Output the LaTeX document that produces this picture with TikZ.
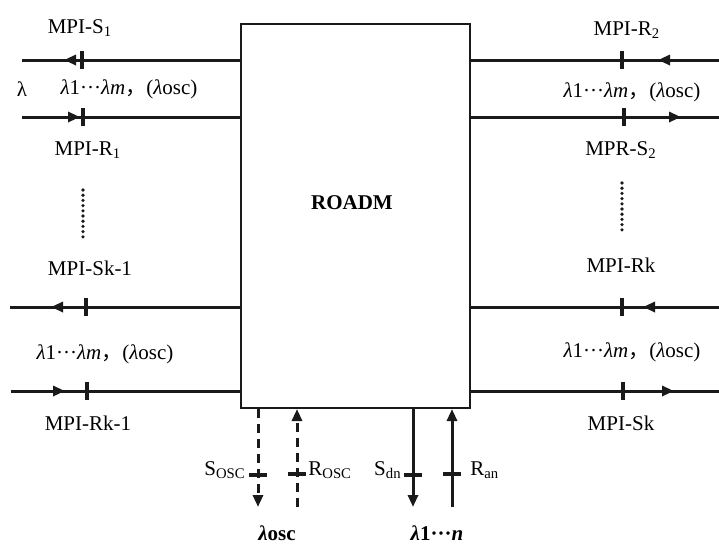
\documentclass[tikz,border=0pt]{standalone}
\usepackage{fontspec}
\setmainfont{Liberation Serif}
\newfontfamily\cjk{Noto Sans CJK SC}
\usetikzlibrary{arrows.meta,positioning,decorations.markings}
\definecolor{cK}{HTML}{1a1a1a}
\tikzset{
  box/.style={draw=cK,line width=1pt,minimum width=114.5pt,
              minimum height=192pt,inner sep=0pt},
  fibre/.style={line width=1.5pt,cK},
  osc/.style={fibre,dash pattern=on 4.5pt off 3pt},
  dropend/.style={-{Triangle[length=6pt,width=5pt]}},
  tipat/.style={postaction={decorate,decoration={markings,
      mark=at position #1 with {\arrow{Triangle[length=6pt,width=5pt]}}}}},
  tickat/.style={postaction={decorate,decoration={markings,
      mark=at position #1 with {\draw[-,cK,solid,line width=1.8pt] (0,-4.3pt) -- (0,4.3pt);}}}},
  lbl/.style={font=\fontsize{10.5}{12}\selectfont,inner sep=1pt},
  title/.style={font=\fontsize{10.5}{12}\selectfont\bfseries,inner sep=1pt},
  vdots/.style={cK,line width=1.8pt,line cap=round,dash pattern=on 0pt off 2.6pt},
}
\newcommand{\wband}{\textit{λ}1···\textit{λm}{\cjk ，}(\textit{λ}osc)}

\begin{document}
\begin{tikzpicture}[x=0.5pt,y=-0.5pt]
  \useasboundingbox (0,0) rectangle (719,543);
  \node[box] (roadm) at (355.5,216) {};
  \node[title] (roadmlbl) at (352,203) {ROADM};
  % west side ports
  \coordinate (w1) at (22,60);
  \coordinate (w2) at (22,117);
  \coordinate (w3) at (10,307);
  \coordinate (w4) at (11,391);
  \draw[fibre,tickat=79pt,tipat=88pt] (roadm.west |- w1) -- (w1);
  \draw[fibre,tipat=29pt,tickat=30.5pt] (w2) -- (roadm.west |- w2);
  \draw[fibre,tickat=77pt,tipat=94.5pt] (roadm.west |- w3) -- (w3);
  \draw[fibre,tipat=27pt,tickat=38pt] (w4) -- (roadm.west |- w4);
  % east side ports
  \coordinate (e1) at (719,60);
  \coordinate (e2) at (719,117);
  \coordinate (e3) at (719,307);
  \coordinate (e4) at (719,391);
  \draw[fibre,tipat=30.5pt,tickat=48.5pt] (e1) -- (roadm.east |- e1);
  \draw[fibre,tickat=76.5pt,tipat=105pt] (roadm.east |- e2) -- (e2);
  \draw[fibre,tipat=38pt,tickat=48.5pt] (e3) -- (roadm.east |- e3);
  \draw[fibre,tickat=76pt,tipat=101.5pt] (roadm.east |- e4) -- (e4);
  % add/drop and supervisory channel
  \coordinate (sosc) at (258,507);
  \coordinate (rosc) at (297,507);
  \coordinate (sdn) at (413,507);
  \coordinate (ran) at (452,507);
  \draw[osc,dropend,tickat=33pt] (roadm.south -| sosc) -- (sosc);
  \draw[osc,dropend,tickat=16.5pt] (rosc) -- (roadm.south -| rosc);
  \draw[fibre,dropend,tickat=33pt] (roadm.south -| sdn) -- (sdn);
  \draw[fibre,dropend,tickat=16.5pt] (ran) -- (roadm.south -| ran);
  \draw[vdots] (83,190) -- (83,237);
  \draw[vdots] (622,183) -- (622,233);
  % labels
  \node[lbl] (ls1) at (80,28) {MPI-S\textsubscript{1}};
  \node[lbl] (llam) at (22,89) {λ};
  \node[lbl] (lw1) at (129,89) {\wband};
  \node[lbl] (lr1) at (88,150) {MPI-R\textsubscript{1}};
  \node[lbl] (lsk1) at (90,268) {MPI-Sk-1};
  \node[lbl] (lw3) at (105,354) {\wband};
  \node[lbl] (lrk1) at (88,423) {MPI-Rk-1};
  \node[lbl] (lr2) at (627,30) {MPI-R\textsubscript{2}};
  \node[lbl] (lw2) at (632,92) {\wband};
  \node[lbl] (ls2) at (621,150) {MPR-S\textsubscript{2}};
  \node[lbl] (lrk) at (621,265) {MPI-Rk};
  \node[lbl] (lw4) at (632,352) {\wband};
  \node[lbl] (lsk) at (621,423) {MPI-Sk};
  \node[lbl,anchor=east] (lsosc) at (248,470) {S\textsubscript{OSC}};
  \node[lbl,anchor=west] (lrosc) at (306,470) {R\textsubscript{OSC}};
  \node[lbl,anchor=east] (lsdn) at (404,470) {S\textsubscript{dn}};
  \node[lbl,anchor=west] (lran) at (468,470) {R\textsubscript{an}};
  \node[title] (losc) at (277,533) {\textit{λ}osc};
  \node[title] (lall) at (437,533) {\textit{λ}1···\textit{n}};
\end{tikzpicture}
\end{document}
